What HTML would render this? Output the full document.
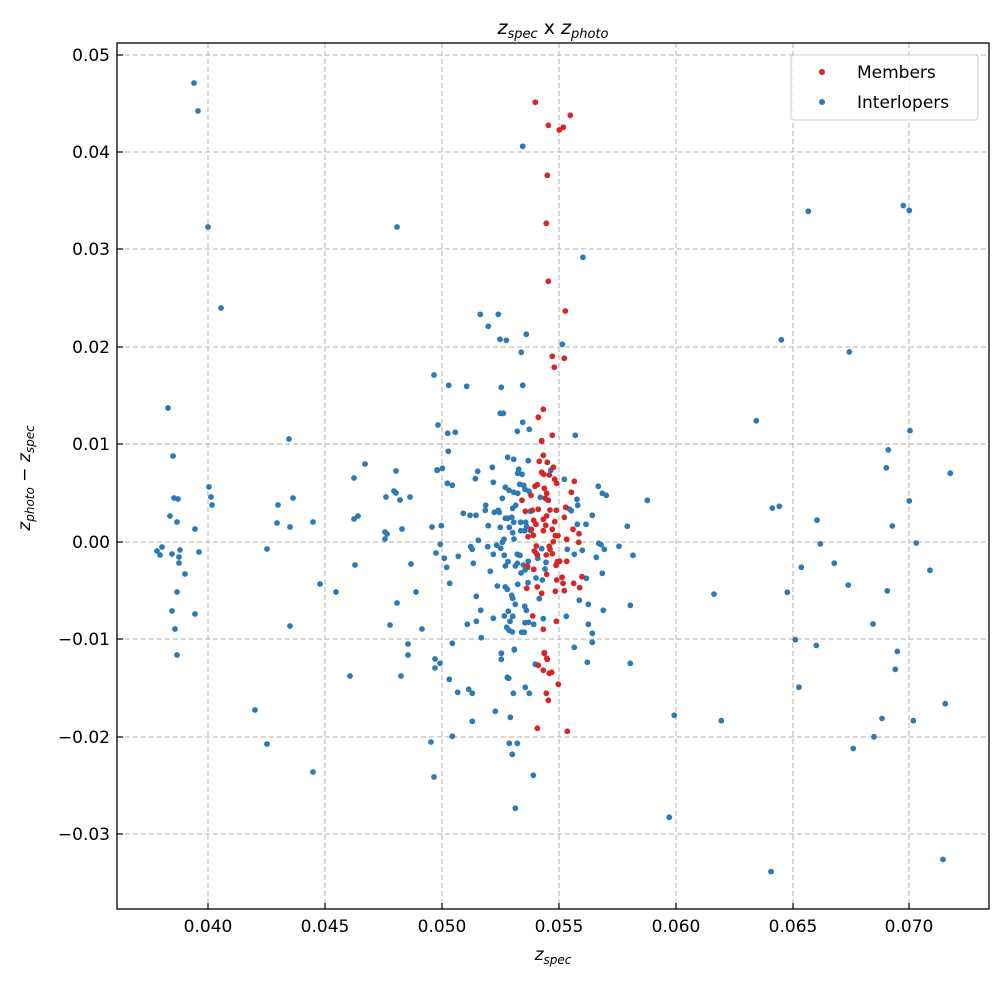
<!DOCTYPE html>
<html><head><meta charset="utf-8"><style>
html,body{margin:0;padding:0;background:#fff;}
svg{display:block;font-family:"DejaVu Sans","Liberation Sans",sans-serif;}
</style></head><body>
<svg id="s" width="1004" height="983" viewBox="0 0 1004 983" xmlns="http://www.w3.org/2000/svg">
<rect width="1004" height="983" fill="#fff"/>
<g stroke="#b0b0b0" stroke-width="1" stroke-dasharray="5,3">
<line x1="208" y1="43" x2="208" y2="909"/><line x1="325" y1="43" x2="325" y2="909"/><line x1="442" y1="43" x2="442" y2="909"/><line x1="559" y1="43" x2="559" y2="909"/><line x1="676" y1="43" x2="676" y2="909"/><line x1="793" y1="43" x2="793" y2="909"/><line x1="909" y1="43" x2="909" y2="909"/>
<line x1="117" y1="55" x2="989" y2="55"/><line x1="117" y1="152" x2="989" y2="152"/><line x1="117" y1="249" x2="989" y2="249"/><line x1="117" y1="347" x2="989" y2="347"/><line x1="117" y1="444" x2="989" y2="444"/><line x1="117" y1="542" x2="989" y2="542"/><line x1="117" y1="639" x2="989" y2="639"/><line x1="117" y1="737" x2="989" y2="737"/><line x1="117" y1="834" x2="989" y2="834"/>
</g>
<g id="blue" fill="#2e7ab5"></g>
<g id="red" fill="#d62728"></g>
<rect x="117" y="43" width="872" height="866" fill="none" stroke="#000" stroke-width="1.3"/>
<g stroke="#000" stroke-width="1.2">
<line x1="208" y1="909" x2="208" y2="903"/><line x1="325" y1="909" x2="325" y2="903"/><line x1="442" y1="909" x2="442" y2="903"/><line x1="559" y1="909" x2="559" y2="903"/><line x1="676" y1="909" x2="676" y2="903"/><line x1="793" y1="909" x2="793" y2="903"/><line x1="909" y1="909" x2="909" y2="903"/>
<line x1="117" y1="55" x2="123" y2="55"/><line x1="117" y1="152" x2="123" y2="152"/><line x1="117" y1="249" x2="123" y2="249"/><line x1="117" y1="347" x2="123" y2="347"/><line x1="117" y1="444" x2="123" y2="444"/><line x1="117" y1="542" x2="123" y2="542"/><line x1="117" y1="639" x2="123" y2="639"/><line x1="117" y1="737" x2="123" y2="737"/><line x1="117" y1="834" x2="123" y2="834"/>
</g>
<g font-size="17" fill="#000" text-anchor="middle">
<text x="208" y="932">0.040</text><text x="325" y="932">0.045</text><text x="442" y="932">0.050</text><text x="559" y="932">0.055</text><text x="676" y="932">0.060</text><text x="793" y="932">0.065</text><text x="909" y="932">0.070</text>
</g>
<g font-size="17" fill="#000" text-anchor="end">
<text x="110" y="61">0.05</text><text x="110" y="158">0.04</text><text x="110" y="255">0.03</text><text x="110" y="353">0.02</text><text x="110" y="450">0.01</text><text x="110" y="548">0.00</text><text x="110" y="645">−0.01</text><text x="110" y="743">−0.02</text><text x="110" y="840">−0.03</text>
</g>
<text x="553" y="34" font-size="19" text-anchor="middle"><tspan font-style="italic">z</tspan><tspan font-size="13" font-style="italic" dy="4">spec</tspan><tspan dy="-4"> x </tspan><tspan font-style="italic">z</tspan><tspan font-size="13" font-style="italic" dy="4">photo</tspan></text>
<text x="553" y="960" font-size="17" text-anchor="middle"><tspan font-style="italic">z</tspan><tspan font-size="12" font-style="italic" dy="4">spec</tspan></text>
<text transform="translate(30,478) rotate(-90)" font-size="17" text-anchor="middle"><tspan font-style="italic">z</tspan><tspan font-size="12" font-style="italic" dy="4">photo</tspan><tspan dy="-4"> − </tspan><tspan font-style="italic">z</tspan><tspan font-size="12" font-style="italic" dy="4">spec</tspan></text>
<rect x="791" y="55" width="187" height="65" rx="3" fill="#fff" fill-opacity="0.85" stroke="#ccc"/>
<circle cx="822" cy="72" r="3" fill="#d62728"/><text x="857" y="78" font-size="17">Members</text>
<circle cx="822" cy="102" r="3" fill="#2e7ab5"/><text x="857" y="108" font-size="17">Interlopers</text>
</svg>
<script>
var B=[],R=[];
// left region (direct px)
[[194,83],[198,111],[208,227],[397,227],[221,308],[434,375],[168,408],[289,439],[438,425],[173,456],[365,464],[354,478],[396,471],[437,470],[209,487],[211,497],[212,505],[174,498],[178,499],[278,505],[293,498],[386,497],[394,491],[396,493],[400,500],[410,497],[170,516],[177,522],[277,523],[290,527],[313,522],[354,519],[358,516],[195,529],[385,532],[387,534],[385,539],[402,529],[432,527],[157,551],[162,547],[160,555],[172,554],[179,557],[180,550],[199,552],[267,549],[436,553],
[179,563],[185,574],[177,592],[172,611],[195,614],[175,629],[177,655],[290,626],[320,584],[336,592],[355,565],[411,564],[416,592],[397,603],[390,625],[422,629],[408,644],[408,655],[435,659],[435,668],[350,676],[401,676],[255,710],[267,744],[313,772],[431,742],[434,777]].forEach(function(p){B.push(p);});
// right region (zoom coords)
[[325,70],[610,57],[628,68],[244,357],[448,384],[169,538],[630,560],[565,603],[559,643],[751,655],[217,733],[238,729],[628,717],[351,760],[577,773],[361,813],[649,811],[304,865],[403,856],[690,872],[42,925],[262,921],[445,905],[562,918],[519,992],[286,1027],[349,1040],[592,1053],[586,1093],[297,1133],[736,1170],[64,1208],[546,1203],[640,1208],[522,1244],[460,1270],[213,1545],[729,1518]].forEach(function(p){B.push([p[0]/3+700,p[1]/2.234+180]);});
// zoom5 (430,80)
[[278,199],[459,532],[151,703],[205,703],[175,739],[210,778],[229,781],[289,763],[397,793],[274,817],[56,916],[110,919],[214,922],[278,916],[211,1000],[220,1000],[53,1060],[76,1057],[278,1027],[262,1054],[298,1048],[436,1066]].forEach(function(p){B.push([p[0]/3+430,p[1]/3+80]);});
[[316,67],[355,136],[388,150],[400,142],[421,106],[352,286],[349,430],[355,604],[406,693],[367,829],[403,835],[373,862],[340,988],[325,1012],[335,1082],[367,1066]].forEach(function(p){R.push([p[0]/3+430,p[1]/3+80]);});
// zoom6 (430,440)
[[55,34],[22,91],[37,85],[52,130],[67,136],[136,116],[143,94],[187,82],[190,127],[233,52],[251,58],[295,62],[266,88],[263,100],[276,103],[269,133],[281,136],[226,142],[237,151],[251,157],[263,160],[285,148],[297,154],[217,175],[331,172],[362,91],[403,118],[441,178],[443,196],[505,139],[517,160],[529,166],[652,181],[167,196],[166,211],[100,220],[120,226],[138,226],[193,217],[205,211],[208,217],[257,196],[248,205],[233,235],[226,235],[245,232],[251,247],[272,247],[287,247],[301,214],[290,260],[284,272],[302,272],[34,257],[175,257],[211,262],[238,262],[248,278],[272,272],[252,297],[222,298],[217,307],[145,301],[173,320],[200,316],[212,325],[122,320],[127,328],[31,313],[43,355],[85,349],[190,343],[223,346],[262,343],[270,346],[234,365],[226,378],[256,378],[262,370],[280,375],[295,364],[273,399],[285,390],[293,382],[319,340],[323,355],[348,367],[335,326],[345,387],[130,370],[50,382],[181,394],[412,328],[433,343],[457,331],[442,253],[468,253],[487,226],[418,207],[424,212],[506,310],[513,314],[523,328],[567,319],[592,259],[609,346],[499,352],[517,400],[469,415],[59,430],[202,438],[226,441],[232,448],[263,433],[294,428],[318,414],[337,420],[328,476],[245,466],[248,475],[256,493],[139,469],[152,511],[112,553],[139,544],[190,535],[223,528],[235,514],[240,544],[248,529],[284,499],[289,511],[285,548],[296,547],[311,553],[340,536],[230,562],[237,571],[247,576],[275,577],[283,577],[409,529],[448,481],[475,493],[520,511],[601,496],[475,553],[487,580],[487,607],[433,622],[154,593],[67,610],[253,628],[214,640]].forEach(function(p){B.push([p[0]/3+430,p[1]/3+440]);});
[[335,4],[340,46],[328,64],[352,67],[370,82],[335,97],[341,103],[358,105],[374,118],[380,130],[433,124],[322,134],[315,139],[343,145],[350,160],[346,175],[355,181],[276,181],[303,166],[424,157],[286,214],[307,211],[325,208],[360,210],[379,211],[407,202],[350,228],[340,238],[374,245],[403,232],[311,241],[318,253],[304,268],[294,290],[310,286],[347,256],[340,272],[367,268],[376,287],[384,287],[429,268],[447,281],[410,298],[446,307],[370,305],[319,318],[313,333],[322,345],[358,319],[360,328],[367,341],[349,345],[378,376],[382,365],[389,364],[410,364],[292,378],[311,388],[350,403],[380,420],[396,412],[399,430],[403,452],[431,430],[449,443],[456,410],[290,445],[322,441],[335,460],[376,454],[308,528],[340,568],[379,544],[343,638],[350,655]].forEach(function(p){R.push([p[0]/3+430,p[1]/3+440]);});
// zoom7 (430,650)
[[30,40],[214,10],[214,28],[253,0],[316,43],[472,37],[601,40],[58,88],[83,127],[116,118],[127,130],[232,82],[236,85],[250,130],[286,112],[298,130],[196,184],[127,214],[241,202],[733,196],[67,259],[238,280],[262,280],[247,313],[310,376],[256,475],[718,502]].forEach(function(p){B.push([p[0]/3+430,p[1]/3+650]);});
[[343,10],[352,28],[325,46],[340,61],[358,70],[365,67],[385,103],[349,130],[355,151],[322,235],[412,244]].forEach(function(p){R.push([p[0]/3+430,p[1]/3+650]);});
var ns="http://www.w3.org/2000/svg";
function add(id,arr){var el=document.getElementById(id);arr.forEach(function(p){var c=document.createElementNS(ns,"circle");c.setAttribute("cx",p[0].toFixed(1));c.setAttribute("cy",p[1].toFixed(1));c.setAttribute("r",2.9);el.appendChild(c);});}
add("blue",B);add("red",R);
</script>
</body></html>
